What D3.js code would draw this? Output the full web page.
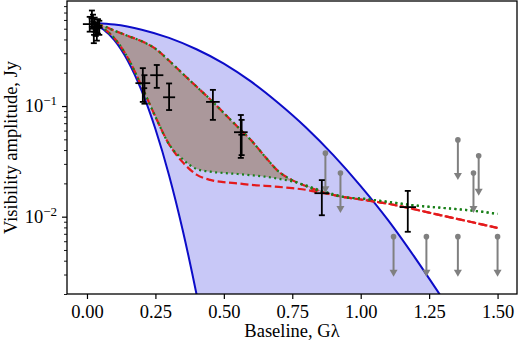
<!DOCTYPE html>
<html>
<head>
<meta charset="utf-8">
<script src="https://cdn.jsdelivr.net/npm/d3@7"></script>
<style>
body { margin: 0; background: #fff; }
text { font-family: "Liberation Serif", "DejaVu Serif", serif; fill: #000; }
</style>
</head>
<body>
<svg id="chart" width="520" height="343"></svg>
<script>
// wide/narrow gaussian envelopes (blue)
var wideBase = [0.03, 0.1, 0.2, 0.3, 0.4, 0.5, 0.6, 0.7, 0.8, 0.9, 1.0, 1.1, 1.2, 1.3];
var wideAmp = [0.56, 0.545, 0.49, 0.413, 0.326, 0.242, 0.166, 0.106, 0.064, 0.036, 0.0189, 0.0093, 0.0042, 0.0018];
var narrowBase = [0.03, 0.06, 0.1, 0.15, 0.2, 0.25, 0.3, 0.35, 0.4, 0.45];
var narrowAmp = [0.543, 0.493, 0.394, 0.254, 0.137, 0.062, 0.0236, 0.0075, 0.002, 0.00045];

// model band (red dashed / green dotted)
var modelBase = [0.03, 0.05, 0.1, 0.15, 0.2, 0.25, 0.3, 0.35, 0.4, 0.45, 0.5, 0.55, 0.6, 0.65, 0.7, 0.75, 0.8, 0.85, 0.9, 0.95];
var redUpper = [0.55, 0.54, 0.48, 0.43, 0.385, 0.33, 0.257, 0.196, 0.15, 0.115, 0.0865, 0.065, 0.049, 0.035, 0.0256, 0.0214, 0.0189, 0.017, 0.0157, 0.0149];
var greenUpper = [0.55, 0.54, 0.48, 0.43, 0.385, 0.33, 0.257, 0.196, 0.15, 0.115, 0.0865, 0.065, 0.049, 0.035, 0.0256, 0.0214, 0.0189, 0.017, 0.0157, 0.0149];
var redLower = [0.55, 0.52, 0.41, 0.27, 0.15, 0.08, 0.045, 0.031, 0.024, 0.0215, 0.0205, 0.02, 0.0194, 0.019, 0.0186, 0.0181, 0.0175, 0.0165, 0.0157, 0.0149];
var greenLower = [0.55, 0.52, 0.41, 0.27, 0.15, 0.08, 0.045, 0.033, 0.027, 0.0255, 0.0248, 0.0243, 0.0237, 0.023, 0.022, 0.0208, 0.0192, 0.0174, 0.016, 0.0149];
var tailBase = [0.95, 1.0, 1.1, 1.2, 1.3, 1.4, 1.5];
var redTail = [0.0149, 0.0143, 0.0131, 0.0116, 0.0102, 0.009, 0.0079];
var greenTail = [0.0149, 0.0146, 0.0136, 0.0126, 0.012, 0.0114, 0.0106];

// measured visibilities
var ptBase = [0.010, 0.018, 0.022, 0.028, 0.032, 0.036, 0.040, 0.025, 0.045, 0.204, 0.21, 0.255, 0.30, 0.46, 0.562, 0.565, 0.858, 1.172];
var ptAmp = [0.55, 0.62, 0.58, 0.55, 0.50, 0.46, 0.53, 0.44, 0.51, 0.161, 0.145, 0.19, 0.12, 0.109, 0.058, 0.055, 0.0163, 0.0122];
var ptBaseErr = [0.025, 0.012, 0.01, 0.015, 0.012, 0.012, 0.015, 0.01, 0.012, 0.027, 0.01, 0.024, 0.022, 0.025, 0.025, 0.012, 0.027, 0.03];
var ptLo = [0.47, 0.52, 0.50, 0.47, 0.43, 0.39, 0.45, 0.37, 0.44, 0.109, 0.105, 0.146, 0.092, 0.075, 0.034, 0.036, 0.0103, 0.0073];
var ptHi = [0.64, 0.73, 0.67, 0.63, 0.57, 0.53, 0.61, 0.51, 0.59, 0.22, 0.19, 0.235, 0.16, 0.14, 0.083, 0.075, 0.0214, 0.0171];

// upper limits
var limBase = [0.871, 0.926, 1.12, 1.24, 1.355, 1.355, 1.431, 1.412, 1.50];
var limAmp = [0.0375, 0.0248, 0.0066, 0.0066, 0.0494, 0.0066, 0.0355, 0.0248, 0.0066];

var xTicks = [0, 0.25, 0.5, 0.75, 1.0, 1.25, 1.5];
var yMajor = [0.01, 0.1];
var yMajorExp = ["\u22122", "\u22121"];

var svg = d3.select("#chart");
var mLeft = 67, mRight = 517, mTop = 1, mBottom = 294;

var x = d3.scaleLinear().domain([-0.073, 1.571]).range([mLeft, mRight]);
var y = d3.scaleLog().domain([0.002, 0.89]).range([mBottom, mTop]);

svg.append("clipPath").attr("id", "clip")
    .append("rect").attr("x", mLeft).attr("y", mTop).attr("width", mRight - mLeft).attr("height", mBottom - mTop);

var plot = svg.append("g").attr("clip-path", "url(#clip)");

function pts(bs, vs) {
    return bs.map(function (b, i) { return [x(b), y(vs[i])]; });
}
var line = d3.line().curve(d3.curveMonotoneX);

// blue band
var widePts = pts(wideBase, wideAmp);
var narrowPts = pts(narrowBase, narrowAmp);
var bandD = line(widePts) + line(narrowPts.slice().reverse()).replace(/^M/, "L") + "Z";
plot.append("path").attr("d", bandD).attr("fill", "#c8c8f7").attr("stroke", "none");
plot.append("path").attr("d", line(widePts)).attr("fill", "none").attr("stroke", "#0c0cc8").attr("stroke-width", 2);
plot.append("path").attr("d", line(narrowPts)).attr("fill", "none").attr("stroke", "#0c0cc8").attr("stroke-width", 2);

// brown model band
var area = d3.area().curve(d3.curveMonotoneX)
    .x(function (d) { return x(d); })
    .y0(function (d, i) { return y(greenLower[i]); })
    .y1(function (d, i) { return y(redUpper[i]); });
plot.append("path").datum(modelBase).attr("d", area).attr("fill", "#ab989b");

function withTail(vs, tail) {
    return pts(modelBase.concat(tailBase.slice(1)), vs.concat(tail.slice(1)));
}
[[redUpper, redTail], [redLower, redTail]].forEach(function (p) {
    plot.append("path").attr("d", line(withTail(p[0], p[1])))
        .attr("fill", "none").attr("stroke", "#e41a1c").attr("stroke-width", 2.2)
        .attr("stroke-dasharray", "8,3.5");
});
[[greenUpper, greenTail], [greenLower, greenTail]].forEach(function (p) {
    plot.append("path").attr("d", line(withTail(p[0], p[1])))
        .attr("fill", "none").attr("stroke", "#1a801a").attr("stroke-width", 2.2)
        .attr("stroke-dasharray", "2,3.4");
});

// upper limits
var lim = plot.append("g").attr("stroke", "#808080").attr("fill", "#808080");
limBase.forEach(function (b, i) {
    var cx = x(b), cy = y(limAmp[i]), tip = cy + 40;
    lim.append("line").attr("x1", cx).attr("x2", cx).attr("y1", cy).attr("y2", tip - 5).attr("stroke-width", 2);
    lim.append("path").attr("d", "M" + (cx - 4) + "," + (tip - 7) + "L" + (cx + 4) + "," + (tip - 7) + "L" + cx + "," + tip + "Z").attr("stroke", "none");
    lim.append("circle").attr("cx", cx).attr("cy", cy).attr("r", 2.8).attr("stroke", "none");
});

// data points with error bars
var eb = plot.append("g").attr("stroke", "#000").attr("stroke-width", 1.8);
ptBase.forEach(function (b, i) {
    var cx = x(b), cy = y(ptAmp[i]);
    eb.append("line").attr("x1", x(b - ptBaseErr[i])).attr("x2", x(b + ptBaseErr[i])).attr("y1", cy).attr("y2", cy);
    eb.append("line").attr("x1", cx).attr("x2", cx).attr("y1", y(ptLo[i])).attr("y2", y(ptHi[i]));
    eb.append("line").attr("x1", cx - 3).attr("x2", cx + 3).attr("y1", y(ptLo[i])).attr("y2", y(ptLo[i]));
    eb.append("line").attr("x1", cx - 3).attr("x2", cx + 3).attr("y1", y(ptHi[i])).attr("y2", y(ptHi[i]));
});

// axes
var xAxis = svg.append("g").attr("transform", "translate(0," + mBottom + ")")
    .call(d3.axisBottom(x).tickValues(xTicks).tickFormat(d3.format(".2f")).tickSize(5).tickPadding(6));
xAxis.select(".domain").remove();
xAxis.selectAll("text").attr("font-size", 18.5).attr("font-family", "Liberation Serif");
xAxis.selectAll("line").attr("stroke-width", 1.2);

var minor = [];
[0.001, 0.01, 0.1].forEach(function (d) {
    for (var k = 2; k <= 9; k++) {
        var v = d * k;
        if (v >= 0.002 && v <= 0.89) minor.push(v);
    }
});
var yAxis = svg.append("g").attr("transform", "translate(" + mLeft + ",0)")
    .call(d3.axisLeft(y).tickValues(yMajor).tickFormat("").tickSize(5));
yAxis.select(".domain").remove();
yAxis.selectAll("line").attr("stroke-width", 1.2);
svg.append("g").attr("transform", "translate(" + mLeft + ",0)")
    .call(d3.axisLeft(y).tickValues(minor).tickFormat("").tickSize(3))
    .call(function (g) { g.select(".domain").remove(); g.selectAll("line").attr("stroke-width", 0.9); });

yMajor.forEach(function (v, i) {
    var t = svg.append("text").attr("x", 57).attr("y", y(v) + 6).attr("text-anchor", "end").attr("font-size", 18.5);
    t.append("tspan").text("10");
    t.append("tspan").attr("font-size", 13).attr("dy", -7).text(yMajorExp[i]);
});

svg.append("rect").attr("x", mLeft).attr("y", mTop).attr("width", mRight - mLeft).attr("height", mBottom - mTop)
    .attr("fill", "none").attr("stroke", "#000").attr("stroke-width", 1.3);

svg.append("text").attr("x", (mLeft + mRight) / 2).attr("y", 337).attr("text-anchor", "middle")
    .attr("font-size", 18.5).text("Baseline, G\u03bb");
svg.append("text").attr("transform", "translate(17," + ((mTop + mBottom) / 2) + ") rotate(-90)")
    .attr("text-anchor", "middle").attr("font-size", 18.5).text("Visibility amplitude, Jy");
</script>
</body>
</html>
